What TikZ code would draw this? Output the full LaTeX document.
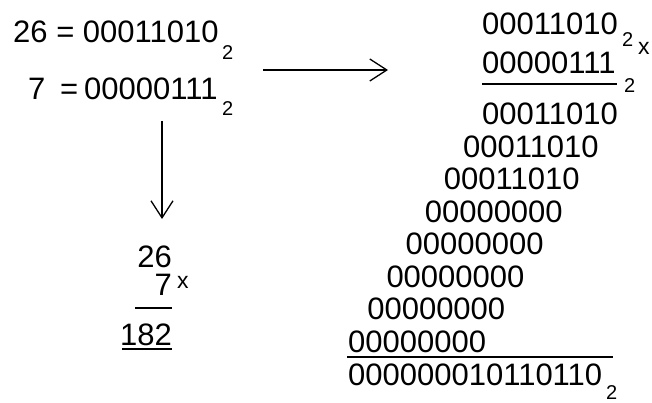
\documentclass[tikz,border=0pt]{standalone}
\usepackage{fontspec}
\setmainfont{Liberation Sans}
\usetikzlibrary{arrows.meta}

\newcommand{\numsize}{\fontsize{31}{31}\selectfont}
\newcommand{\subsize}{\fontsize{20}{20}\selectfont}

\begin{document}
\begin{tikzpicture}[x=1pt,y=-1pt,
  num/.style={inner sep=0pt,font=\numsize,anchor=base west},
  sub/.style={inner sep=0pt,font=\subsize,anchor=base west},
  rule/.style={line width=1.5pt},
  arr/.style={line width=1.3pt,-{Straight Barb[length=17pt,width=22pt]}}]
\useasboundingbox (0,0) rectangle (652,403);

% the two factors in binary
\node[num] (a) at (13,43) {26 = 00011010};
\node[sub] (as) at (222,60) {2};
\node[num] (bseven) at (28,100) {7};
\node[num] (beq) at (60,100) {=};
\node[num] (b) at (84,100) {00000111};
\node[sub] (bs) at (222,116) {2};

% arrows
\coordinate (p) at (263,70);
\coordinate (q) at (388,70);
\draw[arr] (p) -- (q);
\coordinate (s) at (162,121);
\coordinate (t) at (162,219);
\draw[arr] (s) -- (t);

% decimal product
\node[num,anchor=base east] (d1) at (172,267) {26};
\node[num,anchor=base east] (d2) at (172,295) {7};
\node[sub,font=\fontsize{23}{23}\selectfont] (dx) at (177,288) {x};
\draw[rule] (135,308) -- (172,308);
\node[num,anchor=base east] (d3) at (172,345) {182};
\draw[rule] (122,349) -- (172,349);

% binary product
\node[num] (m) at (482,35) {00011010};
\node[sub] (ms) at (622,47) {2};
\node[sub,font=\fontsize{23}{23}\selectfont] (mx) at (638,55) {x};
\node[num] (n) at (482,74) {00000111};
\node[sub] (ns) at (624,93) {2};
\draw[rule] (482,84) -- (617,84);

\node[num] (r1) at (482,125) {00011010};
\node[num] (r2) at (462.9,157.4) {00011010};
\node[num] (r3) at (443.7,189.9) {00011010};
\node[num] (r4) at (424.6,222.3) {00000000};
\node[num] (r5) at (405.4,254.7) {00000000};
\node[num] (r6) at (386.3,287.1) {00000000};
\node[num] (r7) at (367.1,319.6) {00000000};
\node[num] (r8) at (348,352) {00000000};
\draw[rule] (347,357) -- (613,357);
\node[num] (res) at (348,385) {000000010110110};
\node[sub] (ress) at (606,399) {2};
\end{tikzpicture}
\end{document}
